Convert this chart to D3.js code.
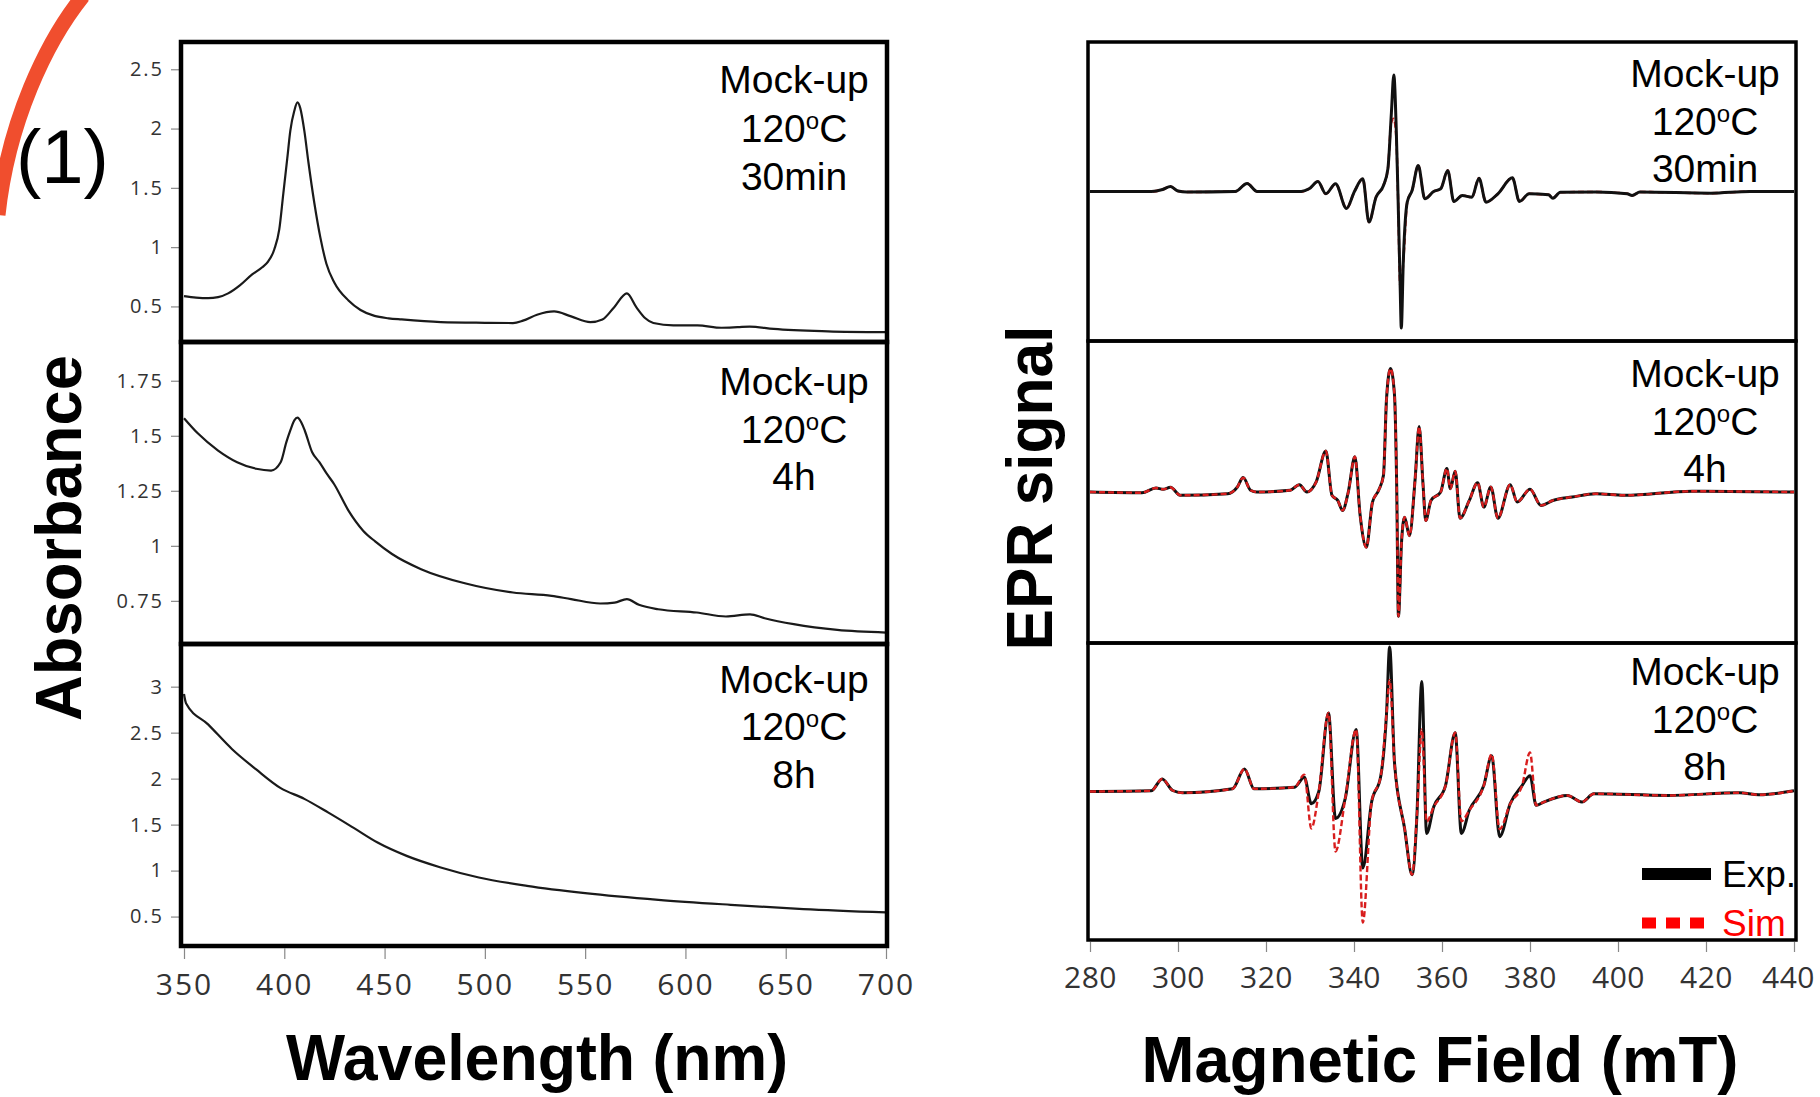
<!DOCTYPE html>
<html>
<head>
<meta charset="utf-8">
<script src="https://cdn.jsdelivr.net/npm/d3@7"></script>
<style>
body { margin: 0; background: #fff; }
svg { display: block; }
</style>
</head>
<body>
<div id="chart"></div>
<script>
// UV-Vis spectra, absorbance vs wavelength (nm)
var uvWave30 = [350, 356, 362, 367, 372, 378, 384, 389, 392, 395, 397.5, 399.5, 401.5, 403, 405, 406.6, 408, 410, 412, 415, 418, 421, 425, 432, 438, 445, 452, 458.5, 478, 500, 514, 519, 526, 534.5, 543, 552.6, 558.6, 564.5, 570.8, 575.5, 580, 584, 594, 606, 618, 626, 632, 644, 671, 700];
var uvAbs30 = [0.587, 0.575, 0.57, 0.578, 0.61, 0.68, 0.77, 0.83, 0.88, 0.98, 1.15, 1.45, 1.75, 1.98, 2.15, 2.22, 2.17, 1.98, 1.72, 1.37, 1.08, 0.86, 0.70, 0.55, 0.47, 0.42, 0.40, 0.39, 0.368, 0.362, 0.36, 0.38, 0.43, 0.458, 0.416, 0.368, 0.39, 0.494, 0.61, 0.494, 0.40, 0.36, 0.34, 0.34, 0.32, 0.325, 0.33, 0.31, 0.29, 0.283];

var uvWave4h = [350, 357, 367, 376.5, 386, 393.4, 398.2, 401, 403, 405, 406.6, 408.5, 410.2, 413.9, 417.5, 421, 424.8, 432, 439.3, 445.3, 453.7, 468.2, 490, 514, 533.3, 543, 557.5, 564.7, 570.8, 576.8, 586.4, 605.7, 620.2, 632.2, 639.5, 654, 675.7, 700];
var uvAbs4h = [1.58, 1.51, 1.433, 1.38, 1.35, 1.342, 1.38, 1.47, 1.524, 1.57, 1.582, 1.56, 1.524, 1.425, 1.38, 1.33, 1.281, 1.16, 1.069, 1.02, 0.963, 0.894, 0.83, 0.788, 0.773, 0.758, 0.738, 0.742, 0.758, 0.732, 0.712, 0.697, 0.679, 0.689, 0.671, 0.644, 0.618, 0.606];

var uvWave8h = [350, 351, 362, 374, 386, 398, 410, 422, 434.4, 446.5, 461, 478, 497, 521, 550, 586.5, 622.6, 658.8, 700];
var uvAbs8h = [2.92, 2.82, 2.59, 2.32, 2.10, 1.90, 1.78, 1.63, 1.467, 1.305, 1.16, 1.034, 0.925, 0.834, 0.755, 0.682, 0.628, 0.581, 0.545];

var uvTicks30 = [0.5, 1, 1.5, 2, 2.5];
var uvTicks4h = [0.75, 1, 1.25, 1.5, 1.75];
var uvTicks8h = [0.5, 1, 1.5, 2, 2.5, 3];
var wavelengthTicks = [350, 400, 450, 500, 550, 600, 650, 700];

// EPR spectra, signal (a.u.) vs magnetic field (mT)
var eprField30 = [280, 294, 296.5, 298.3, 300, 302, 313, 315.7, 318, 328, 329.8, 331.8, 333.6, 335.8, 338.3, 340.1, 342, 343.4, 345, 346.7, 347.7, 348.5, 349.05, 349.6, 350, 350.5, 350.75, 351.2, 352.1, 353.2, 354.6, 356.1, 358.1, 359.7, 361.3, 362.7, 364.6, 366.8, 368.4, 370, 372.7, 376, 377.6, 379.8, 384.2, 385.2, 386.9, 395, 402.1, 403.2, 405, 421.1, 430, 440];
var eprExp30 = [0, 0, 2, 5, 0.5, -0.5, 0, 8, 0, 0, 2.7, 10, -2.3, 7.7, -17, 0, 12.7, -30.7, -5.7, 6, 22.7, 79, 117, 62.7, -4, -97, -137, -70.7, -10.7, 1, 26, -7.3, 0, 2.7, 21, -10, -4, -5.7, 13.3, -10.7, -2.3, 13.7, -10, -2.3, -3.3, -6.7, -0.7, -0.5, -2.3, -4, -0.5, -1.7, 0, 0];
var eprSim30 = [0, 0, 2, 5, 0.5, -0.5, 0, 8, 0, 0, 2.7, 10, -2.3, 7.7, -17, 0, 12.7, -30.7, -5.7, 6, 22.7, 70, 73, 55, -4, -94, -95, -70.7, -10.7, 1, 26, -7.3, 0, 2.7, 21, -10, -4, -5.7, 13.3, -10.7, -2.3, 13.7, -10, -2.3, -3.3, -6.7, -0.7, -0.5, -2.3, -4, -0.5, -1.7, 0, 0];

var eprField4h = [280, 291.8, 295, 296.6, 298.3, 300.5, 311.3, 313.5, 314.8, 316.5, 317.9, 325.5, 327.6, 329.3, 331.4, 333.6, 335, 336.3, 337.4, 338.7, 340.2, 341.4, 342.8, 344.2, 345.6, 346.7, 347.4, 348.3, 349.2, 349.7, 350.1, 350.8, 351.5, 352.6, 353.9, 354.8, 355.7, 356.3, 357.5, 359.7, 361.1, 361.9, 363, 364.1, 366.2, 368.1, 369.5, 371.1, 372.7, 375.5, 377.1, 380, 382.5, 385.2, 389.6, 395, 401.5, 416.8, 440];
var eprExp4h = [0, -0.7, 4, 2.7, 4.7, -3.3, -1.7, 5, 14.3, 1.7, 0, 1.7, 7.3, 0, 10, 40.7, -3.3, -8.3, -18.3, 0, 35, -23.3, -55, -10, 1.7, 16.7, 93.3, 122.6, 96.6, 6.7, -123.4, -50, -25, -43.4, 13.3, 65, 6.7, -28.4, -8.4, 0, 23.3, 3.3, 20.7, -26, -8.4, 9.3, -15, 5, -26, 7.3, -10, 2.7, -13.3, -8.4, -5, -1.7, -3.3, 0.7, 0];
var eprSim4h = [0, -0.7, 4, 2.7, 4.7, -3.3, -1.7, 5, 14.3, 1.7, 0, 1.7, 7.3, 0, 10, 40.7, -3.3, -8.3, -18.3, 0, 35, -23.3, -55, -10, 1.7, 16.7, 93.3, 122.6, 96.6, 6.7, -123.4, -50, -25, -43.4, 13.3, 65, 6.7, -28.4, -8.4, 0, 23.3, 3.3, 20.7, -26, -8.4, 9.3, -15, 5, -26, 7.3, -10, 2.7, -13.3, -8.4, -5, -1.7, -3.3, 0.7, 0];

var eprField8h = [280, 293.9, 296.4, 298.8, 301, 312.4, 315.1, 317.3, 326.5, 328.7, 330.3, 332, 334.2, 335.8, 338, 340.5, 342, 344, 346.1, 347.4, 348.1, 349.2, 351.5, 353.2, 354.3, 355.4, 356.5, 358.1, 360.8, 363, 364.4, 366.2, 369.5, 371.3, 373.1, 375.5, 378.2, 380, 381.4, 383.1, 388.5, 391.8, 394.5, 411.3, 427.6, 432, 440];
var eprExp8h = [0, 0.7, 12.7, 1, -1.3, 2.7, 22.7, 2.7, 4.3, 14.3, -12.3, 0, 79.3, -27.3, -7.3, 62.7, -77.3, -10.7, 16, 79.3, 146, 29.3, -37.3, -84, -24, 111, -42.3, -15.7, 6, 59.4, -42.3, -19, 6, 36, -45.6, -12.3, 6, 16, -14, -10.7, -4, -10.7, -2.3, -4, -1.3, -3.3, 0.7];
var eprSim8h = [0, 0.7, 12.7, 1, -1.3, 2.7, 22.7, 2.7, 4.3, 17, -37.3, 0, 79.3, -60.6, -7.3, 62.7, -132.3, -10.7, 16, 79.3, 112.7, 29.3, -37.3, -84, -24, 62.7, -30.6, -15.7, 6, 59.4, -30, -19, 6, 37.7, -38, -12.3, 6, 39.4, -14, -10.7, -4, -10.7, -2.3, -4, -1.3, -3.3, 0.7];

var fieldTicks = [280, 300, 320, 340, 360, 380, 400, 420, 440];
var timeLabels = ["30min", "4h", "8h"];

var W = 1820, H = 1097;
var FONT = "'Liberation Sans', Arial, sans-serif";
var TICKFONT = "'Open Sans', 'DejaVu Sans', sans-serif";

var svg = d3.select("#chart").append("svg")
    .attr("width", W)
    .attr("height", H)
    .attr("viewBox", [0, 0, W, H])
    .style("font-family", FONT);

// orange arc in the corner
svg.append("path")
    .attr("d", "M 83 -4 C 46 42, 8 122, -2 215")
    .attr("fill", "none")
    .attr("stroke", "#f04e2e")
    .attr("stroke-width", 15);

svg.append("text")
    .attr("x", 16).attr("y", 183)
    .attr("font-size", 76)
    .text("(1)");

function zip(xs, ys) {
    return xs.map(function (x, i) { return [x, ys[i]]; });
}

function addLabel(cx, baselines, time) {
    var g = svg.append("g").attr("text-anchor", "middle").attr("font-size", 39);
    g.append("text").attr("x", cx).attr("y", baselines[0]).text("Mock-up");
    var t = g.append("text").attr("x", cx).attr("y", baselines[1]);
    t.append("tspan").text("120");
    t.append("tspan").attr("font-size", 24).attr("dy", -13).text("o");
    t.append("tspan").attr("dy", 13).text("C");
    g.append("text").attr("x", cx).attr("y", baselines[2]).text(time);
}

// ---------- left: UV-Vis ----------
var uvX = d3.scaleLinear().domain([350, 700]).range([184, 886]);
var uvRows = [
    { top: 42, bottom: 342, domain: [0.2, 2.73], ticks: uvTicks30, pts: zip(uvWave30, uvAbs30), lab: [93, 142, 190] },
    { top: 342, bottom: 644, domain: [0.554, 1.926], ticks: uvTicks4h, pts: zip(uvWave4h, uvAbs4h), lab: [395, 443, 490] },
    { top: 644, bottom: 946, domain: [0.18, 3.464], ticks: uvTicks8h, pts: zip(uvWave8h, uvAbs8h), lab: [693, 740, 788] }
];

uvRows.forEach(function (r, i) {
    var y = d3.scaleLinear().domain(r.domain).range([r.bottom, r.top]);
    var line = d3.line().x(d => uvX(d[0])).y(d => y(d[1])).curve(d3.curveMonotoneX);

    svg.append("path")
        .datum(r.pts)
        .attr("d", line)
        .attr("fill", "none")
        .attr("stroke", "#1a1a1a")
        .attr("stroke-width", 2.2);

    var ax = svg.append("g")
        .attr("transform", "translate(181,0)")
        .call(d3.axisLeft(y).tickValues(r.ticks).tickSize(10).tickPadding(7).tickFormat(d => String(d)));
    ax.select(".domain").remove();
    ax.selectAll("line").attr("stroke", "#888").attr("stroke-width", 1.2);
    ax.selectAll("text").attr("font-family", TICKFONT).attr("font-size", 20)
        .attr("letter-spacing", 2).attr("fill", "#333");

    svg.append("rect")
        .attr("x", 181).attr("y", r.top)
        .attr("width", 706).attr("height", r.bottom - r.top)
        .attr("fill", "none").attr("stroke", "#000").attr("stroke-width", 4.5);

    addLabel(794, r.lab, timeLabels[i]);
});

var uvAxis = svg.append("g")
    .attr("transform", "translate(0,948)")
    .call(d3.axisBottom(uvX).tickValues(wavelengthTicks).tickSize(11).tickPadding(15));
uvAxis.select(".domain").remove();
uvAxis.selectAll("line").attr("stroke", "#888").attr("stroke-width", 1.2);
uvAxis.selectAll("text").attr("font-family", TICKFONT).attr("font-size", 30)
    .attr("letter-spacing", 2).attr("fill", "#333");

svg.append("text")
    .attr("x", 537).attr("y", 1080)
    .attr("text-anchor", "middle")
    .attr("font-size", 64).attr("font-weight", "bold")
    .attr("textLength", 502).attr("lengthAdjust", "spacingAndGlyphs")
    .text("Wavelength (nm)");

svg.append("text")
    .attr("transform", "translate(81,538) rotate(-90)")
    .attr("text-anchor", "middle")
    .attr("font-size", 64).attr("font-weight", "bold")
    .attr("textLength", 366).attr("lengthAdjust", "spacingAndGlyphs")
    .text("Absorbance");

// ---------- right: EPR ----------
var eprX = d3.scaleLinear().domain([280, 440]).range([1090, 1794]);
var eprRows = [
    { top: 42, bottom: 341, exp: zip(eprField30, eprExp30), sim: zip(eprField30, eprSim30), simOnTop: false, lab: [87, 135, 182] },
    { top: 341, bottom: 643, exp: zip(eprField4h, eprExp4h), sim: zip(eprField4h, eprSim4h), simOnTop: true, lab: [387, 435, 482] },
    { top: 643, bottom: 940, exp: zip(eprField8h, eprExp8h), sim: zip(eprField8h, eprSim8h), simOnTop: true, lab: [685, 733, 780] }
];

eprRows.forEach(function (r, i) {
    var y = d3.scaleLinear().domain([-150, 150]).range([r.bottom, r.top]);
    var line = d3.line().x(d => eprX(d[0])).y(d => y(d[1])).curve(d3.curveMonotoneX);

    function drawExp() {
        svg.append("path").datum(r.exp).attr("d", line)
            .attr("fill", "none").attr("stroke", "#111").attr("stroke-width", 3);
    }
    function drawSim() {
        svg.append("path").datum(r.sim).attr("d", line)
            .attr("fill", "none").attr("stroke", "#d81e1e").attr("stroke-width", 2.4)
            .attr("stroke-dasharray", "6,3");
    }
    if (r.simOnTop) { drawExp(); drawSim(); } else { drawSim(); drawExp(); }

    svg.append("rect")
        .attr("x", 1088).attr("y", r.top)
        .attr("width", 708).attr("height", r.bottom - r.top)
        .attr("fill", "none").attr("stroke", "#000").attr("stroke-width", 3.5);

    addLabel(1705, r.lab, timeLabels[i]);
});

var eprAxis = svg.append("g")
    .attr("transform", "translate(0,942)")
    .call(d3.axisBottom(eprX).tickValues(fieldTicks).tickSize(10).tickPadding(15));
eprAxis.select(".domain").remove();
eprAxis.selectAll("line").attr("stroke", "#888").attr("stroke-width", 1.2);
eprAxis.selectAll("text").attr("font-family", TICKFONT).attr("font-size", 30)
    .attr("letter-spacing", 0.5).attr("fill", "#333");
// last label sits right at the page edge; nudge it so it stays whole
eprAxis.selectAll(".tick").filter(d => d === 440).select("text").attr("dx", -6);

// legend
svg.append("line").attr("x1", 1642).attr("x2", 1711).attr("y1", 874).attr("y2", 874)
    .attr("stroke", "#000").attr("stroke-width", 12);
svg.append("text").attr("x", 1722).attr("y", 887).attr("font-size", 37).text("Exp.");
svg.append("line").attr("x1", 1642).attr("x2", 1706).attr("y1", 923).attr("y2", 923)
    .attr("stroke", "#f00").attr("stroke-width", 11).attr("stroke-dasharray", "14,10");
svg.append("text").attr("x", 1722).attr("y", 936).attr("font-size", 37).attr("fill", "#f00").text("Sim");

svg.append("text")
    .attr("x", 1440).attr("y", 1082)
    .attr("text-anchor", "middle")
    .attr("font-size", 64).attr("font-weight", "bold")
    .attr("textLength", 597).attr("lengthAdjust", "spacingAndGlyphs")
    .text("Magnetic Field (mT)");

svg.append("text")
    .attr("transform", "translate(1052,488) rotate(-90)")
    .attr("text-anchor", "middle")
    .attr("font-size", 64).attr("font-weight", "bold")
    .attr("textLength", 325).attr("lengthAdjust", "spacingAndGlyphs")
    .text("EPR signal");
</script>
</body>
</html>
